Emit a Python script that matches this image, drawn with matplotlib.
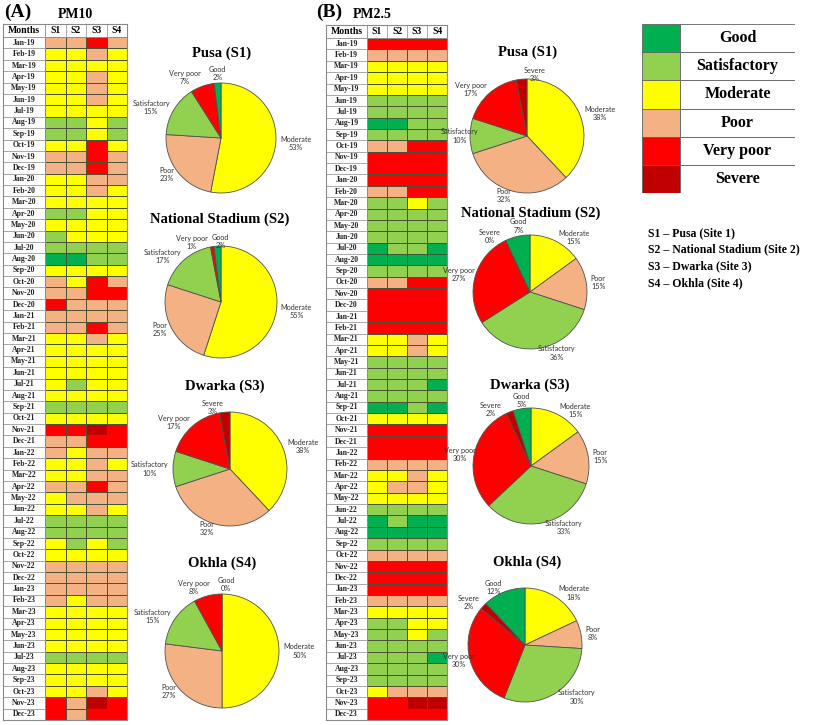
import numpy as np
import matplotlib
matplotlib.use('Agg')
import matplotlib.pyplot as plt
from matplotlib.colors import ListedColormap

W, H = 813, 725
SERIF = 'Liberation Serif'
SANS = 'Lato'

categories = ['Good', 'Satisfactory', 'Moderate', 'Poor', 'Very poor', 'Severe']
cat_colors = ['#00B050', '#92D050', '#FFFF00', '#F4B183', '#FF0000', '#C00000']
codes = 'GSMPVX'   # one letter per category, same order
sites = ['S1', 'S2', 'S3', 'S4']
month_names = ['Jan', 'Feb', 'Mar', 'Apr', 'May', 'Jun',
               'Jul', 'Aug', 'Sep', 'Oct', 'Nov', 'Dec']
years = ['19', '20', '21', '22', '23']
months = [m + '-' + y for y in years for m in month_names]

# monthly AQI category per site (S1 S2 S3 S4), Jan-19 .. Dec-23
pm10_rows = [
    'PPVP', 'MMPM', 'MMMM', 'MMPM', 'MMPM', 'MMPM', 'MMMM', 'SSMS', 'SSMS', 'MMVM', 'PPVP', 'PPVP',
    'MMPP', 'MMPM', 'MMMM', 'SSMM', 'MMMM', 'SMMM', 'SSSS', 'GGSS', 'MMMM', 'PMVP', 'PPVV', 'VPPP',
    'PPPP', 'PPVP', 'MMPM', 'MMMM', 'MMMM', 'MMMM', 'MSMM', 'MMMM', 'SSSS', 'MMMM', 'VVXV', 'PPVV',
    'PMPP', 'MMPM', 'MMPP', 'PPVP', 'MPPP', 'MMPM', 'SSSS', 'SSSS', 'MSMS', 'MMMM', 'PPPP', 'PPPP',
    'PPPP', 'PMPP', 'MMMM', 'MMMM', 'MMMM', 'MMMM', 'SSSS', 'MMMM', 'MMMM', 'MMPM', 'VPXV', 'VPVV',
]
pm25_rows = [
    'VVVV', 'PPPP', 'MMMM', 'MMMM', 'MMMM', 'SSSS', 'SSSS', 'GGSS', 'SSSS', 'PPVV', 'VVVV', 'VVVV',
    'VVVV', 'PPVV', 'SSMS', 'SSSS', 'SSSS', 'SSSS', 'GSSG', 'GGGG', 'SSSS', 'PPVV', 'VVVV', 'VVVV',
    'VVVV', 'VVVV', 'MMPM', 'MMPM', 'SSSS', 'SSSS', 'SSSG', 'SSSS', 'GGSG', 'MMMM', 'VVVV', 'VVVV',
    'VVVV', 'PPPP', 'MMPM', 'MPPM', 'MMMM', 'SSSS', 'GSGG', 'GGGG', 'SSSS', 'PPPP', 'VVVV', 'VVVV',
    'VVVV', 'PPPP', 'MMMM', 'SSMM', 'SSMS', 'SSSS', 'SSSG', 'SSSS', 'SSSS', 'MPPP', 'VVXX', 'VVVV',
]

# pie slices in drawing order (clockwise from 12 o'clock), percent
pie_titles = ['Pusa (S1)', 'National Stadium (S2)', 'Dwarka (S3)', 'Okhla (S4)']
pm10_pie_labels = [
    ['Moderate', 'Poor', 'Satisfactory', 'Very poor', 'Good'],
    ['Moderate', 'Poor', 'Satisfactory', 'Very poor', 'Good'],
    ['Moderate', 'Poor', 'Satisfactory', 'Very poor', 'Severe'],
    ['Moderate', 'Poor', 'Satisfactory', 'Very poor', 'Good'],
]
pm10_pie_values = [
    [53, 23, 15, 7, 2],
    [55, 25, 17, 1, 2],
    [38, 32, 10, 17, 3],
    [50, 27, 15, 8, 0],
]
pm25_pie_labels = [
    ['Moderate', 'Poor', 'Satisfactory', 'Very poor', 'Severe'],
    ['Moderate', 'Poor', 'Satisfactory', 'Very poor', 'Severe', 'Good'],
    ['Moderate', 'Poor', 'Satisfactory', 'Very poor', 'Severe', 'Good'],
    ['Moderate', 'Poor', 'Satisfactory', 'Very poor', 'Severe', 'Good'],
]
pm25_pie_values = [
    [38, 32, 10, 17, 3],
    [15, 15, 36, 27, 0, 7],
    [15, 15, 33, 30, 2, 5],
    [18, 8, 30, 30, 2, 12],
]
site_names = ['S1 – Pusa (Site 1)', 'S2 – National Stadium (Site 2)',
              'S3 – Dwarka (Site 3)', 'S4 – Okhla (Site 4)']

# label placement tweaks for crowded slices: (alignment, dx px, dy px)
pm10_nudge = [
    {'Very poor': ('right', 0, -5), 'Good': ('center', 0, -5)},
    {'Very poor': ('right', -4, 0), 'Good': ('center', 3, 0)},
    {},
    {'Very poor': ('right', 3, -4), 'Good': ('center', 4, -5)},
]
pm25_nudge = [
    {'Severe': ('center', 14, 0), 'Satisfactory': ('right', 13, 0)},
    {'Severe': ('right', -3, 0), 'Good': ('center', 2, -6), 'Very poor': ('right', 4, 0)},
    {'Severe': ('right', -6, 2), 'Good': ('center', 0, -4), 'Very poor': ('right', 6, 0)},
    {'Very poor': ('right', 9, 0)},
]

fig = plt.figure(figsize=(W / 100, H / 100), dpi=100)


def box(left, top, w, h):
    return [left / W, 1 - (top + h) / H, w / W, h / H]


def draw_table(left, top, right, bottom, rows):
    ax = fig.add_axes(box(left, top, right - left, bottom - top))
    mw = 2.05          # width of the Months column, in site-column units
    hh = 1.15          # header height, in row units
    n = len(rows)
    z = np.array([[codes.index(c) for c in r] for r in rows])
    xe = mw + np.arange(len(sites) + 1)
    ye = hh + np.arange(n + 1)
    ax.pcolormesh(xe, ye, z, cmap=ListedColormap(cat_colors), vmin=-0.5, vmax=5.5,
                  edgecolors='#4a5238', linewidth=0.5)
    ax.hlines(ye, 0, mw, color='#9a9a9a', lw=0.6)
    ax.hlines(hh, 0, xe[-1], color='#9a9a9a', lw=0.6)
    ax.vlines(list(xe), 0, hh, color='#9a9a9a', lw=0.6)
    ax.vlines(mw, 0, ye[-1], color='#9a9a9a', lw=0.6)
    for i, m in enumerate(months):
        ax.text(mw / 2, hh + i + 0.5, m, ha='center', va='center',
                fontsize=5.6, fontweight='bold', family=SERIF, color='#222222')
    ax.text(mw / 2, hh / 2, 'Months', ha='center', va='center',
            fontsize=7, fontweight='bold', family=SERIF)
    for j, s in enumerate(sites):
        ax.text(mw + j + 0.5, hh / 2, s, ha='center', va='center',
                fontsize=7, fontweight='bold', family=SERIF)
    ax.set_xlim(0, xe[-1])
    ax.set_ylim(ye[-1], 0)
    ax.set_xticks([])
    ax.set_yticks([])
    for sp in ax.spines.values():
        sp.set_color('#8a8a8a')
        sp.set_linewidth(0.8)


def draw_pie(cx, cy, r, labels, values, title, tx, ty, nudge):
    s = 2.8 * r
    ax = fig.add_axes(box(cx - s / 2, cy - s / 2, s, s))
    cols = [cat_colors[categories.index(k)] for k in labels]
    txt = [f'{k}\n{v}%' for k, v in zip(labels, values)]
    wedges, texts = ax.pie(values, colors=cols, labels=txt, startangle=90,
                           counterclock=False, labeldistance=1.08,
                           wedgeprops=dict(edgecolor='#505050', linewidth=0.6),
                           textprops=dict(fontsize=5.2, family=SANS, color='#333333'))
    for k, t in zip(labels, texts):
        t.set_multialignment('center')
        if k in nudge:
            ha, dx, dy = nudge[k]
            x, y = t.get_position()
            t.set_position((x + dx / r, y - dy / r))
            t.set_ha(ha)
    ax.set_xlim(-1.4, 1.4)
    ax.set_ylim(-1.4, 1.4)
    ax.axis('off')
    fig.text(tx / W, 1 - ty / H, title, ha='center', va='center',
             fontsize=10.5, fontweight='bold', family=SERIF)


# panel headings
fig.text(4 / W, 1 - 12 / H, '(A)', ha='left', va='center', fontsize=14,
         fontweight='bold', family=SERIF)
fig.text(75 / W, 1 - 14 / H, 'PM10', ha='center', va='center', fontsize=10,
         fontweight='bold', family=SERIF)
fig.text(316 / W, 1 - 12 / H, '(B)', ha='left', va='center', fontsize=14,
         fontweight='bold', family=SERIF)
fig.text(372 / W, 1 - 14 / H, 'PM2.5', ha='center', va='center', fontsize=10,
         fontweight='bold', family=SERIF)

draw_table(3, 24, 127, 720, pm10_rows)
draw_table(326, 25, 447, 720, pm25_rows)

pm10_geom = [(221, 138, 55, 222, 53), (221, 302, 56, 220, 219),
             (230, 469, 57, 225, 386), (222, 651, 57, 222, 563)]
pm25_geom = [(527, 136, 57, 528, 52), (530, 292, 57, 531, 213),
             (531, 466, 58, 530, 385), (525, 645, 57, 527, 562)]
for k in range(4):
    cx, cy, r, tx, ty = pm10_geom[k]
    draw_pie(cx, cy, r, pm10_pie_labels[k], pm10_pie_values[k], pie_titles[k],
             tx, ty, pm10_nudge[k])
    cx, cy, r, tx, ty = pm25_geom[k]
    draw_pie(cx, cy, r, pm25_pie_labels[k], pm25_pie_values[k], pie_titles[k],
             tx, ty, pm25_nudge[k])

# legend table
lax = fig.add_axes(box(642, 24, 153, 169))
ny = np.arange(len(categories)) + 0.5
lax.barh(ny, 38, height=1, left=0, color=cat_colors, edgecolor='#606060', lw=0.6)
lax.barh(ny, 115, height=1, left=38, color='white', edgecolor='#606060', lw=0.6)
for y, c in zip(ny, categories):
    lax.text(38 + 115 / 2, y, c, ha='center', va='center', fontsize=11.5,
             fontweight='bold', family=SERIF)
lax.set_xlim(0, 153)
lax.set_ylim(len(categories), 0)
lax.axis('off')

for i, s in enumerate(site_names):
    fig.text(648 / W, 1 - (233 + 16.7 * i) / H, s, ha='left', va='center',
             fontsize=8.5, fontweight='bold', family=SERIF)

fig.savefig('out.png', dpi=100, facecolor='white')
